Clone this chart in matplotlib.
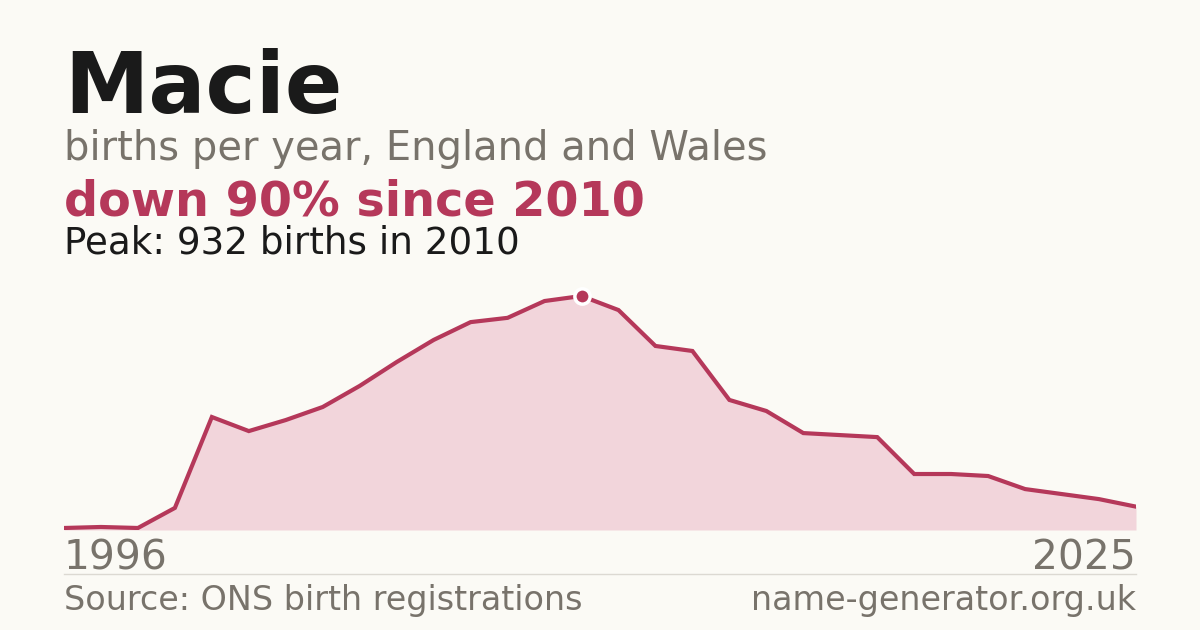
import matplotlib
matplotlib.use("Agg")
import matplotlib.pyplot as plt

years = list(range(1996, 2026))
births = [8, 12, 8, 88, 450, 394, 438, 490, 574, 669, 757, 828, 845, 912, 932,
          876, 733, 713, 518, 474, 386, 378, 370, 223, 223, 215, 163, 143, 123, 93]

name = "Macie"
subtitle = "births per year, England and Wales"
trend = "down 90% since 2010"
peak_text = "Peak: 932 births in 2010"
source = "Source: ONS birth registrations"
site = "name-generator.org.uk"

BG = "#fbfaf5"
LINE = "#b5385a"
FILL = "#f2d5db"
GREY = "#78736b"
DARK = "#1a1a1a"

W, H = 1200, 630
fig = plt.figure(figsize=(W / 100, H / 100), dpi=100)
fig.patch.set_facecolor(BG)

ax = fig.add_axes([64 / W, 1 - 530 / H, (1136 - 64) / W, (530 - 280) / H])
ax.set_facecolor("none")
ax.fill_between(years, births, 0, color=FILL, lw=0, zorder=1)
ax.plot(years, births, color=LINE, lw=3, solid_joinstyle="miter", zorder=2)
pk = births.index(max(births))
ax.plot(years[pk], births[pk], "o", ms=11, mfc=LINE, mec="white", mew=2.5, zorder=3)
ax.set_xlim(years[0], years[-1])
ax.set_ylim(0, max(births) * 250 / 234)
ax.axis("off")

def t(x, y, s, **kw):
    fig.text(x / W, 1 - y / H, s, va="baseline", **kw)

t(64, 113, name, fontsize=61, fontweight="bold", color=DARK)
t(64, 160, subtitle, fontsize=28.8, color=GREY)
t(64, 215, trend, fontsize=34.4, fontweight="bold", color=LINE)
t(64, 253, peak_text, fontsize=26.8, color=DARK)
t(64, 570, str(years[0]), fontsize=29.3, color=GREY)
t(1136, 570, str(years[-1]), fontsize=29.3, color=GREY, ha="right")
t(64, 610, source, fontsize=24, color=GREY)
t(1136, 610, site, fontsize=24, color=GREY, ha="right")

fig.add_artist(plt.Line2D([64 / W, 1136 / W], [1 - 574 / H, 1 - 574 / H],
                          color="#dcd9d2", lw=1))

fig.savefig("out.png", dpi=100, facecolor=BG)
